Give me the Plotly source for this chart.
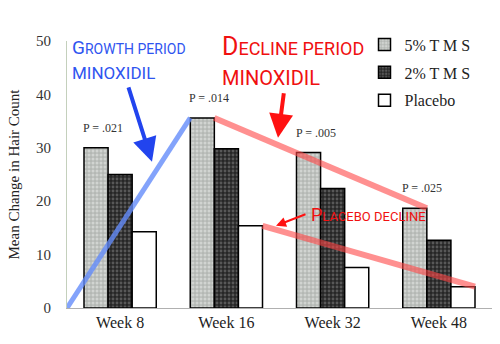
import plotly.graph_objects as go

weeks = ["Week 8", "Week 16", "Week 32", "Week 48"]
tms5 = [30.0, 35.6, 29.1, 18.7]
tms2 = [25.0, 29.8, 22.4, 12.7]
placebo = [14.3, 15.4, 7.6, 4.0]
pvals = ["P = .021", "P = .014", "P = .005", "P = .025"]

xs = list(range(len(weeks)))
BARGAP = 0.32
w = (1 - BARGAP) / 3  # single bar width in category units

serif = "Liberation Serif"
hand = "Roboto"

fig = go.Figure()
fig.add_trace(go.Bar(
    x=xs, y=tms5, name="5% T M S", legendgroup="a",
    marker=dict(color="#b4b8b4", line=dict(color="black", width=1.5),
                pattern=dict(shape=".", fgcolor="#eef0ee", size=4, solidity=0.45)),
))
fig.add_trace(go.Bar(
    x=xs, y=tms2, name="2% T M S", legendgroup="b",
    marker=dict(color="#262626", line=dict(color="black", width=1.5),
                pattern=dict(shape=".", fgcolor="#8a8a8a", size=4, solidity=0.4)),
))
fig.add_trace(go.Bar(
    x=xs, y=placebo, name="Placebo", legendgroup="c",
    marker=dict(color="white", line=dict(color="black", width=1.5)),
))

# hand-drawn style overlay lines, anchored to the bars
fig.add_trace(go.Scatter(
    x=[-0.5, xs[1] - 1.5 * w], y=[0, tms5[1]], mode="lines",
    line=dict(color="rgba(100,140,250,0.8)", width=5), showlegend=False, hoverinfo="skip"))
fig.add_trace(go.Scatter(
    x=[xs[1] - 0.5 * w, xs[3] - 0.5 * w], y=[tms5[1], tms5[3]], mode="lines",
    line=dict(color="rgba(255,70,70,0.6)", width=6), showlegend=False, hoverinfo="skip"))
fig.add_trace(go.Scatter(
    x=[xs[1] + 1.5 * w, xs[3] + 1.5 * w], y=[placebo[1], placebo[3]], mode="lines",
    line=dict(color="rgba(255,70,70,0.6)", width=6), showlegend=False, hoverinfo="skip"))

anns = []
for i, p in enumerate(pvals):
    anns.append(dict(x=xs[i] - 0.16, y=max(tms5[i], tms2[i]), text=p, showarrow=False,
                     yshift=20, xref="x", yref="y",
                     font=dict(family=serif, size=12, color="#333")))

def hw(first, rest, size1, size2):
    return (f"<span style='font-size:{size1}px'>{first}</span>"
            f"<span style='font-size:{size2}px'>{rest}</span>")

def px2x(px):
    return (px - 67) / 425

def px2y(py):
    return (308.5 - py) / 267.5

BLUE = "#2f55f0"
RED = "#f01010"

def label(px, py, text, color, size):
    return dict(xref="paper", yref="paper", x=px2x(px), y=px2y(py),
                xanchor="left", yanchor="middle", showarrow=False, text=text,
                font=dict(family=hand, color=color, size=size))

anns.append(label(70, 48, hw("G", "ROWTH PERIOD", 19, 14), BLUE, 14))
anns.append(label(70, 73, "MINOXIDIL", BLUE, 17))
anns.append(label(220, 47, hw("D", "ECLINE PERIOD", 25, 18), RED, 18))
anns.append(label(220, 78, "MINOXIDIL", RED, 20))
anns.append(label(309, 215, hw("P", "LACEBO DECLINE", 18, 13), RED, 13))

anns.append(dict(xref="paper", yref="paper", x=px2x(152), y=px2y(162), ax=128 - 152, ay=86 - 162,
                 showarrow=True, arrowhead=2, arrowsize=1.2, arrowwidth=4, arrowcolor="#2244ee", text=""))
anns.append(dict(xref="paper", yref="paper", x=px2x(278), y=px2y(138), ax=284 - 278, ay=92 - 138,
                 showarrow=True, arrowhead=2, arrowsize=1.2, arrowwidth=4, arrowcolor="#ff1111", text=""))
anns.append(dict(xref="paper", yref="paper", x=px2x(276), y=px2y(226), ax=307 - 276, ay=214 - 226,
                 showarrow=True, arrowhead=2, arrowsize=1, arrowwidth=2, arrowcolor="#ff1111", text=""))

fig.update_layout(
    width=500, height=344,
    margin=dict(l=67, r=8, t=41, b=35.5),
    paper_bgcolor="white", plot_bgcolor="white",
    barmode="group", bargap=BARGAP, bargroupgap=0,
    annotations=anns,
    legend=dict(x=0.70, y=1.05, xanchor="left", yanchor="top",
                font=dict(family=serif, size=16, color="#222"),
                traceorder="grouped", tracegroupgap=4, bgcolor="rgba(0,0,0,0)"),
    xaxis=dict(tickmode="array", tickvals=xs, ticktext=weeks, range=[-0.5, 3.5],
               showline=True, linecolor="#b0b0b0", linewidth=1, ticks="",
               showgrid=False, zeroline=False,
               tickfont=dict(family=serif, size=16, color="#222")),
    yaxis=dict(range=[0, 50], tickvals=[0, 10, 20, 30, 40, 50],
               showline=True, linecolor="#c4d0bc", linewidth=1, ticks="",
               showgrid=False, zeroline=False, ticklabelstandoff=12,
               tickfont=dict(family=serif, size=15, color="#333"),
               title=dict(text="Mean Change in Hair Count", standoff=12,
                          font=dict(family=serif, size=15, color="#222"))),
)

fig.write_html("out.html")
